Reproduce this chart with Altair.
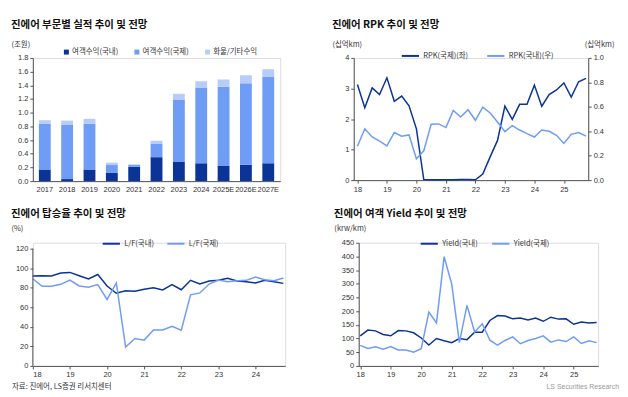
import altair as alt
import pandas as pd

# ---------------- data ----------------
years = ["2017", "2018", "2019", "2020", "2021", "2022", "2023", "2024", "2025E", "2026E", "2027E"]
rev_dom = [0.17, 0.03, 0.17, 0.12, 0.21, 0.35, 0.28, 0.26, 0.22, 0.24, 0.26]
rev_intl = [0.67, 0.79, 0.67, 0.115, 0.025, 0.20, 0.905, 1.10, 1.16, 1.19, 1.26]
rev_other = [0.05, 0.065, 0.07, 0.035, 0.01, 0.04, 0.09, 0.10, 0.105, 0.117, 0.116]
seg_names = ["여객수익(국내)", "여객수익(국제)", "화물/기타수익"]

year_labels = ["18", "19", "20", "21", "22", "23", "24", "25"]

rpk_intl = [3.13, 2.37, 3.02, 2.80, 3.35, 2.58, 2.75, 2.43,
            1.68, 0.02, 0.01, 0.01, 0.01, 0.01, 0.02, 0.02,
            0.01, 0.20, 0.76, 1.30, 2.42, 1.99, 2.48, 2.48,
            3.11, 2.42, 2.80, 2.95, 3.18, 2.72, 3.22, 3.33]
rpk_dom = [0.277, 0.42, 0.353, 0.32, 0.28, 0.39, 0.36, 0.37,
           0.174, 0.24, 0.457, 0.46, 0.43, 0.57, 0.516, 0.576,
           0.49, 0.598, 0.55, 0.475, 0.397, 0.446, 0.41, 0.38,
           0.353, 0.41, 0.40, 0.367, 0.30, 0.375, 0.39, 0.36]
rpk_names = ["RPK(국제)(좌)", "RPK(국내)(우)"]

lf_dom = [92.0, 92.3, 92.0, 95.0, 95.7, 92.3, 89.0, 93.6,
          81.8, 74.4, 77.0, 76.4, 78.4, 80.0, 77.8, 83.2,
          78.0, 87.6, 83.8, 86.9, 87.6, 89.6, 86.9, 86.2,
          84.9, 87.6, 86.2, 84.5]
lf_intl = [89.2, 81.5, 81.5, 83.5, 87.9, 81.8, 80.5, 83.2,
           68.0, 84.9, 19.3, 28.0, 26.4, 36.8, 36.8, 40.6,
           36.5, 72.7, 74.7, 83.8, 87.9, 86.2, 87.2, 87.6,
           90.9, 88.2, 87.2, 89.9]
lf_names = ["L/F(국내)", "L/F(국제)"]
lf_axis_span = [0, 120]

yield_dom = [110, 131, 128, 115, 110, 129, 128, 121,
             102, 76, 100, 92, 85, 100, 96, 123,
             123, 166, 184, 182, 172, 175, 168, 175,
             163, 178, 171, 172, 152, 160, 157, 159]
yield_intl = [75, 64, 70, 61, 71, 58, 58, 50,
              63, 197, 157, 399, 299, 85, 221, 124,
              154, 94, 76, 93, 106, 81, 93, 100,
              110, 87, 95, 89, 106, 82, 92, 85]
yield_names = ["Yield(국내)", "Yield(국제)"]

source_text = "자료: 진에어, LS증권 리서치센터"
brand_text = "LS Securities  Research"

# ---------------- style ----------------
DARK = "#0b3496"
MID = "#6f9cf5"
PALE = "#b7cdf7"
KFONT = "Noto Sans CJK KR"
NFONT = "Liberation Sans, Arial, sans-serif"
label_expr = "[" + ",".join("'%s'" % y for y in year_labels) + "][datum.value/4]"


def title(txt, off):
    return alt.TitleParams(txt, anchor="start", font=KFONT, fontSize=10.5, fontWeight="bold",
                           color="#111", offset=off)


def unit_axis(ttl, values, fmt, tx, ty, orient="left", domain=True):
    return alt.Axis(title=ttl, values=values, format=fmt, orient=orient, grid=False, domain=domain,
                    titleAngle=0, titleAlign="left", titleBaseline="middle",
                    titleX=tx, titleY=ty, titleFont=KFONT, titleFontSize=7.5,
                    titleFontWeight="normal", titleColor="#333",
                    labelFont=NFONT, labelFontSize=7.5, labelColor="#333", labelOverlap=False,
                    domainColor="#555", tickColor="#555", tickSize=3, labelPadding=2)


def x_axis(ticks):
    return alt.Axis(title=None, values=ticks, labelExpr=label_expr, grid=False,
                    labelFont=NFONT, labelFontSize=7.5, labelColor="#333",
                    domainColor="#555", tickColor="#555", tickSize=3, labelPadding=2)


def line_legend(lx, ly, pad):
    return alt.Legend(orient="none", legendX=lx, legendY=ly, direction="horizontal", title=None,
                      symbolType="stroke", symbolSize=300, symbolStrokeWidth=2,
                      labelFont=KFONT, labelFontSize=7.5, labelColor="#333",
                      columnPadding=pad, labelOffset=3)


# ---------------- panel 1: stacked bars ----------------
rows = []
for i, yr in enumerate(years):
    for k, (nm, arr) in enumerate(zip(seg_names, [rev_dom, rev_intl, rev_other])):
        rows.append({"year": yr, "seg": nm, "ord": k, "value": arr[i]})
bar_df = pd.DataFrame(rows)

p1 = alt.Chart(bar_df).mark_bar().encode(
    x=alt.X("year:N", sort=years,
            scale=alt.Scale(paddingInner=0.47, paddingOuter=0.27),
            axis=alt.Axis(title=None, labelAngle=0, ticks=False, labelFont=NFONT, labelFontSize=7.5,
                          labelColor="#333", domainColor="#555", labelPadding=4)),
    y=alt.Y("value:Q", stack="zero", scale=alt.Scale(domain=[0, 1.8]),
            axis=unit_axis("(조원)", [round(0.2 * i, 1) for i in range(10)], ".1f", -22, -14)),
    color=alt.Color("seg:N", scale=alt.Scale(domain=seg_names, range=[DARK, MID, PALE]),
                    legend=alt.Legend(orient="none", legendX=30, legendY=-10, direction="horizontal",
                                      title=None, symbolType="square", symbolSize=25,
                                      labelFont=KFONT, labelFontSize=7.5, labelColor="#333",
                                      columnPadding=15, labelOffset=2)),
    order=alt.Order("ord:Q"),
).properties(width=249, height=124, title=title("진에어 부문별 실적 추이 및 전망", 10))

# ---------------- panel 2: RPK dual axis ----------------
q32 = list(range(32))
rpk_df = pd.DataFrame({"i": q32 * 2, "s": [rpk_names[0]] * 32 + [rpk_names[1]] * 32,
                       "v": rpk_intl + rpk_dom})
rpk_color = alt.Color("s:N", scale=alt.Scale(domain=rpk_names, range=[DARK, MID]),
                      legend=line_legend(47, -12, 14))
xs_rpk = alt.X("i:Q", scale=alt.Scale(domain=[-0.5, 31.3], nice=False, zero=False),
               axis=x_axis(list(range(0, 32, 4))))
l_intl = alt.Chart(rpk_df).transform_filter(alt.datum.s == rpk_names[0]).mark_line(strokeWidth=1.5).encode(
    x=xs_rpk,
    y=alt.Y("v:Q", scale=alt.Scale(domain=[0, 4]),
            axis=unit_axis("(십억km)", [0, 1, 2, 3, 4], "d", -22, -14)),
    color=rpk_color)
l_dom = alt.Chart(rpk_df).transform_filter(alt.datum.s == rpk_names[1]).mark_line(strokeWidth=1.5).encode(
    x=xs_rpk,
    y=alt.Y("v:Q", scale=alt.Scale(domain=[0, 1]),
            axis=unit_axis("(십억km)", [0, 0.2, 0.4, 0.6, 0.8, 1.0], ".1f", -4, -14, orient="right")),
    color=rpk_color)
p2 = alt.layer(l_intl, l_dom).resolve_scale(y="independent").properties(
    width=236, height=123, title=title("진에어 RPK 추이 및 전망", 10))

# ---------------- panel 3: load factor ----------------
q28 = list(range(28))
lf_df = pd.DataFrame({"i": q28 * 2, "s": [lf_names[0]] * 28 + [lf_names[1]] * 28,
                      "v": lf_dom + lf_intl})
lf_x = alt.X("i:Q", scale=alt.Scale(domain=[0, 27.2], nice=False, zero=False),
             axis=x_axis(list(range(0, 28, 4))))
lf_yaxis = unit_axis("(%)", list(range(0, 121, 20)), "d", -22, -14, domain=False)
lf_yscale = alt.Scale(domain=[0, 126.1], nice=False)
lf_line = alt.Chart(lf_df).mark_line(strokeWidth=1.5).encode(
    x=lf_x,
    y=alt.Y("v:Q", scale=lf_yscale, axis=lf_yaxis),
    color=alt.Color("s:N", scale=alt.Scale(domain=lf_names, range=[DARK, MID]),
                    legend=line_legend(69, -9, 8)),
)
lf_axisline = alt.Chart(pd.DataFrame({"v": [lf_axis_span[0]], "v2": [lf_axis_span[1]]})).mark_rule(
    color="#555", strokeWidth=1).encode(
    x=alt.value(0), y=alt.Y("v:Q", scale=lf_yscale, axis=lf_yaxis), y2="v2:Q")
src = alt.Chart(pd.DataFrame({"t": [source_text]})).mark_text(
    align="left", baseline="middle", font=KFONT, fontSize=7.5, color="#333").encode(
    x=alt.value(-21), y=alt.value(145), text="t:N")
p3 = alt.layer(lf_line, lf_axisline, src).properties(
    width=254, height=124, title=title("진에어 탑승율 추이 및 전망", 5))

# ---------------- panel 4: yield ----------------
y_df = pd.DataFrame({"i": q32 * 2, "s": [yield_names[0]] * 32 + [yield_names[1]] * 32,
                     "v": yield_dom + yield_intl})
y_line = alt.Chart(y_df).mark_line(strokeWidth=1.5).encode(
    x=alt.X("i:Q", scale=alt.Scale(domain=[-0.2, 31.2], nice=False, zero=False),
            axis=x_axis(list(range(0, 32, 4)))),
    y=alt.Y("v:Q", scale=alt.Scale(domain=[0, 450]),
            axis=unit_axis("(krw/km)", list(range(0, 451, 50)), "d", -25, -14)),
    color=alt.Color("s:N", scale=alt.Scale(domain=yield_names, range=[DARK, MID]),
                    legend=line_legend(61, -9, 10)),
)
brand = alt.Chart(pd.DataFrame({"t": [brand_text]})).mark_text(
    align="right", baseline="middle", font="Arial, sans-serif", fontSize=7, color="#999").encode(
    x=alt.value(262), y=alt.value(145), text="t:N")
p4 = alt.layer(y_line, brand).properties(width=241, height=124, title=title("진에어 여객 Yield 추이 및 전망", 5))

top = alt.hconcat(p1, p2, spacing=50).resolve_scale(color="independent", y="independent")
bottom = alt.hconcat(p3, p4, spacing=46).resolve_scale(color="independent", y="independent")
chart = alt.vconcat(top, bottom, spacing=16).resolve_scale(color="independent", y="independent").properties(
    padding={"left": 2, "top": 10, "right": 0, "bottom": 0}
).configure_view(stroke=None).configure(background="white")

chart.save("out.html", embed_options={"renderer": "svg", "actions": False})
